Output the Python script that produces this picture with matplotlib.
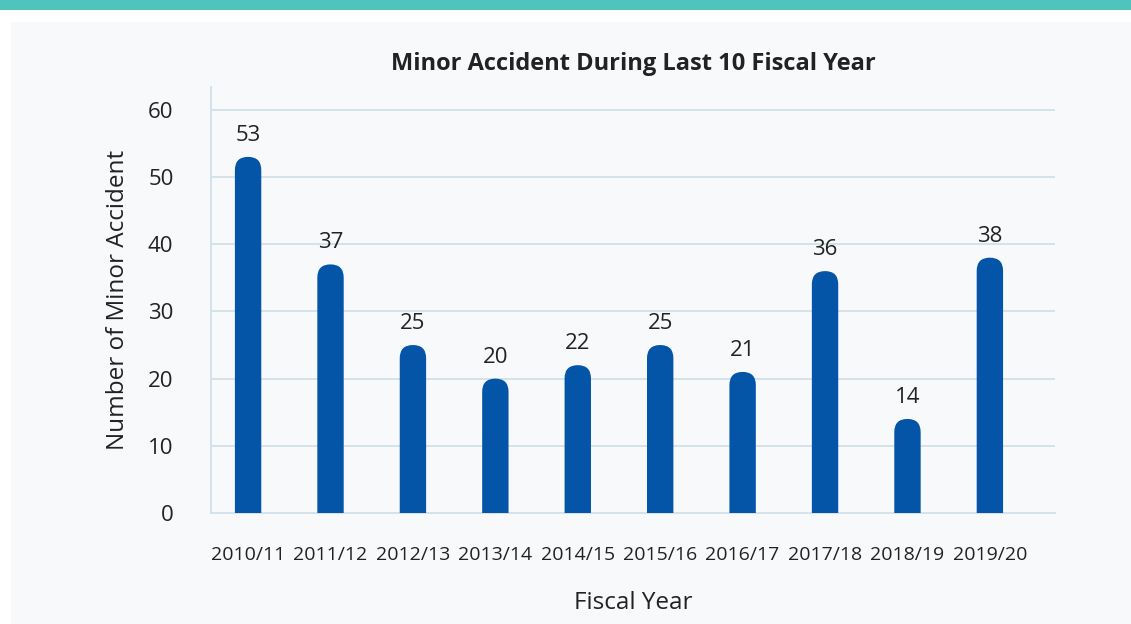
import matplotlib.pyplot as plt
from matplotlib.patches import FancyBboxPatch, Rectangle

plt.rcParams['font.family'] = ['Open Sans', 'Noto Sans', 'DejaVu Sans']

# data
years = ['2010/11', '2011/12', '2012/13', '2013/14', '2014/15',
         '2015/16', '2016/17', '2017/18', '2018/19', '2019/20']
accidents = [53, 37, 25, 20, 22, 25, 21, 36, 14, 38]

bar_color = '#0455a8'
grid_color = '#d6e2ea'
text_color = '#222222'

fig = plt.figure(figsize=(11.31, 6.24), dpi=100, facecolor='white')

# page decoration: teal band on top and light panel behind the chart
fig.patches.append(Rectangle((0, 1 - 10 / 624), 1, 10 / 624, transform=fig.transFigure,
                             facecolor='#4fc3bd', edgecolor='none', zorder=-2))
fig.patches.append(Rectangle((11 / 1131, 0), 1, (624 - 22) / 624, transform=fig.transFigure,
                             facecolor='#f7f9fb', edgecolor='none', zorder=-2))

ax = fig.add_axes([211 / 1131, 111 / 624, 844 / 1131, 426 / 624])
ax.set_facecolor('none')
ax.set_xlim(-0.45, 9.79)
ax.set_ylim(0, 63.4)

x = list(range(len(years)))
bars = ax.bar(x, accidents, width=0.32, color=bar_color)

# swap the square bars for ones with a rounded top
px_x = 844 / (9.79 + 0.45)
px_y = 426 / 63.4
aspect = px_x / px_y
for b in bars:
    b.set_visible(False)
    w = b.get_width()
    r = w / 2
    extra = r * aspect  # bottom corners pushed below 0 and clipped
    p = FancyBboxPatch((b.get_x(), -extra), w, b.get_height() + extra,
                       boxstyle=f'round,pad=0,rounding_size={r}',
                       mutation_aspect=aspect, facecolor=bar_color,
                       edgecolor='none', zorder=3)
    p.set_clip_path(ax.patch)
    ax.add_patch(p)

for xi, v in zip(x, accidents):
    ax.annotate(str(v), (xi, v), xytext=(0, 8), textcoords='offset points',
                ha='center', va='bottom', fontsize=16, color=text_color)

ax.set_yticks(range(0, 61, 10))
ax.set_xticks(x)
ax.set_xticklabels(years)
ax.grid(axis='y', color=grid_color, linewidth=1.4, zorder=0)
ax.set_axisbelow(True)
ax.tick_params(axis='y', length=0, pad=27, labelsize=16, labelcolor=text_color)
ax.tick_params(axis='x', length=0, pad=24, labelsize=14, labelcolor=text_color)

for s in ['top', 'right']:
    ax.spines[s].set_visible(False)
for s in ['left', 'bottom']:
    ax.spines[s].set_color(grid_color)
    ax.spines[s].set_linewidth(1.4)

ax.set_title('Minor Accident During Last 10 Fiscal Year', fontsize=17,
             fontweight='bold', color=text_color, pad=12)
ax.set_xlabel('Fiscal Year', fontsize=17.5, color=text_color, labelpad=19)
ax.set_ylabel('Number of Minor Accident', fontsize=17.5, color=text_color, labelpad=13)

fig.savefig('out.png', dpi=100, facecolor=fig.get_facecolor())
